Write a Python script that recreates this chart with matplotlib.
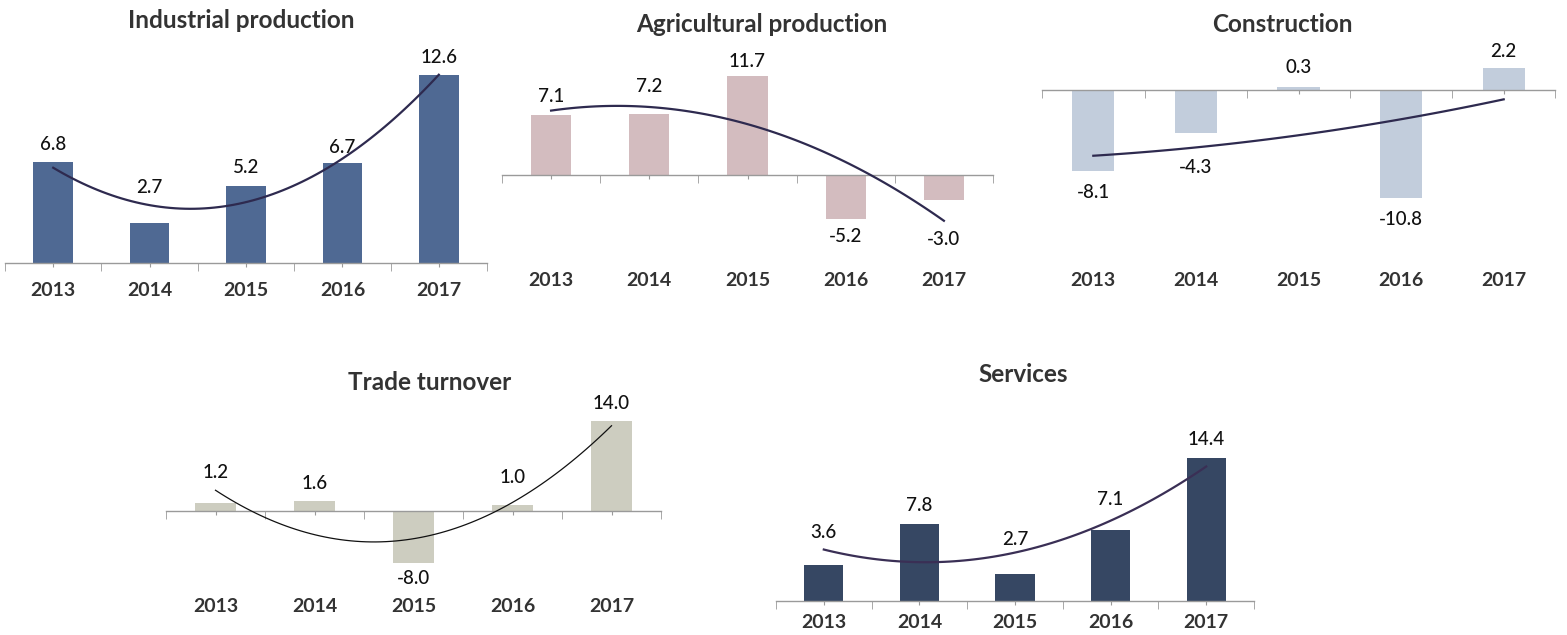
import numpy as np
import matplotlib
matplotlib.use("Agg")
import matplotlib.pyplot as plt
from matplotlib.transforms import blended_transform_factory

plt.rcParams['font.family'] = ['Lato', 'DejaVu Sans']

years = ['2013', '2014', '2015', '2016', '2017']

industrial = [6.8, 2.7, 5.2, 6.7, 12.6]
agricultural = [7.1, 7.2, 11.7, -5.2, -3.0]
construction = [-8.1, -4.3, 0.3, -10.8, 2.2]
trade = [1.2, 1.6, -8.0, 1.0, 14.0]
services = [3.6, 7.8, 2.7, 7.1, 14.4]

W, H = 1567, 635
fig = plt.figure(figsize=(W / 100, H / 100), dpi=100)


def px_axes(left, top, right, bottom):
    return fig.add_axes([left / W, 1 - bottom / H, (right - left) / W, (bottom - top) / H])


def panel(title, values, color, box, zero_y, scale, title_xy, year_y,
          gaps, line_color='#2e2a4f', line_w=1.6):
    left, top, right, bottom = box
    ax = px_axes(left, top, right, bottom)
    x = np.arange(len(values))
    ax.set_xlim(-0.5, len(values) - 0.5)
    ax.set_ylim((zero_y - bottom) / scale, (zero_y - top) / scale)

    ax.bar(x, values, width=0.41, color=color, zorder=2)

    # quadratic trend line through the categories
    coef = np.polyfit(x, values, 2)
    xs = np.linspace(0, len(values) - 1, 80)
    ax.plot(xs, np.polyval(coef, xs), color=line_color, lw=line_w, zorder=3)

    for s in ['top', 'right', 'left']:
        ax.spines[s].set_visible(False)
    ax.spines['bottom'].set_position(('data', 0))
    ax.spines['bottom'].set_color('#9a9a9a')
    ax.spines['bottom'].set_linewidth(1.0)
    ax.set_yticks([])
    ax.set_xticks(x)
    ax.set_xticks(np.arange(-0.5, len(values)), minor=True)
    ax.tick_params(axis='x', which='major', length=3, color='#9a9a9a', labelbottom=False)
    ax.tick_params(axis='x', which='minor', length=6, color='#9a9a9a', labelbottom=False)
    ax.patch.set_alpha(0)

    for xi, v, g in zip(x, values, gaps):
        off = g * 0.72 if v >= 0 else -g * 0.72
        ax.annotate(f'{v:.1f}', (xi, v), xytext=(0, off), textcoords='offset points',
                    ha='center', va='center', fontsize=13.5, fontweight='medium',
                    color='#111111', zorder=4)

    tr = blended_transform_factory(ax.transData, fig.transFigure)
    for xi, yr in zip(x, years):
        ax.text(xi, 1 - year_y / H, yr, transform=tr, ha='center', va='center',
                fontsize=14, fontweight='bold', color='#333333')

    fig.text(title_xy[0] / W, 1 - title_xy[1] / H, title, ha='center', va='center',
             fontsize=17.5, fontweight='bold', color='#333333')


panel('Industrial production', industrial, '#4f6993', (5, 40, 487, 300), 263, 14.9,
      (241, 20), 290, [17, 35, 18, 16, 18])
panel('Agricultural production', agricultural, '#d3bcbf', (502, 40, 993, 300), 175, 8.45,
      (762, 25), 280, [19, 28, 15, 18, 39])
panel('Construction', construction, '#c2cddc', (1042, 40, 1555, 300), 90, 10.0,
      (1282, 24), 281, [21, 34, 20, 21, 17])
panel('Trade turnover', trade, '#cdcdc0', (166, 400, 661, 630), 511, 6.45,
      (430, 383), 607, [31, 17, 16, 27, 17], line_color='#111111', line_w=0.9)
panel('Services', services, '#364763', (776, 400, 1254, 630), 601, 9.93,
      (1023, 375), 622, [33, 18, 35, 31, 19], line_color='#3a2f55')

fig.savefig('out.png', dpi=100)
